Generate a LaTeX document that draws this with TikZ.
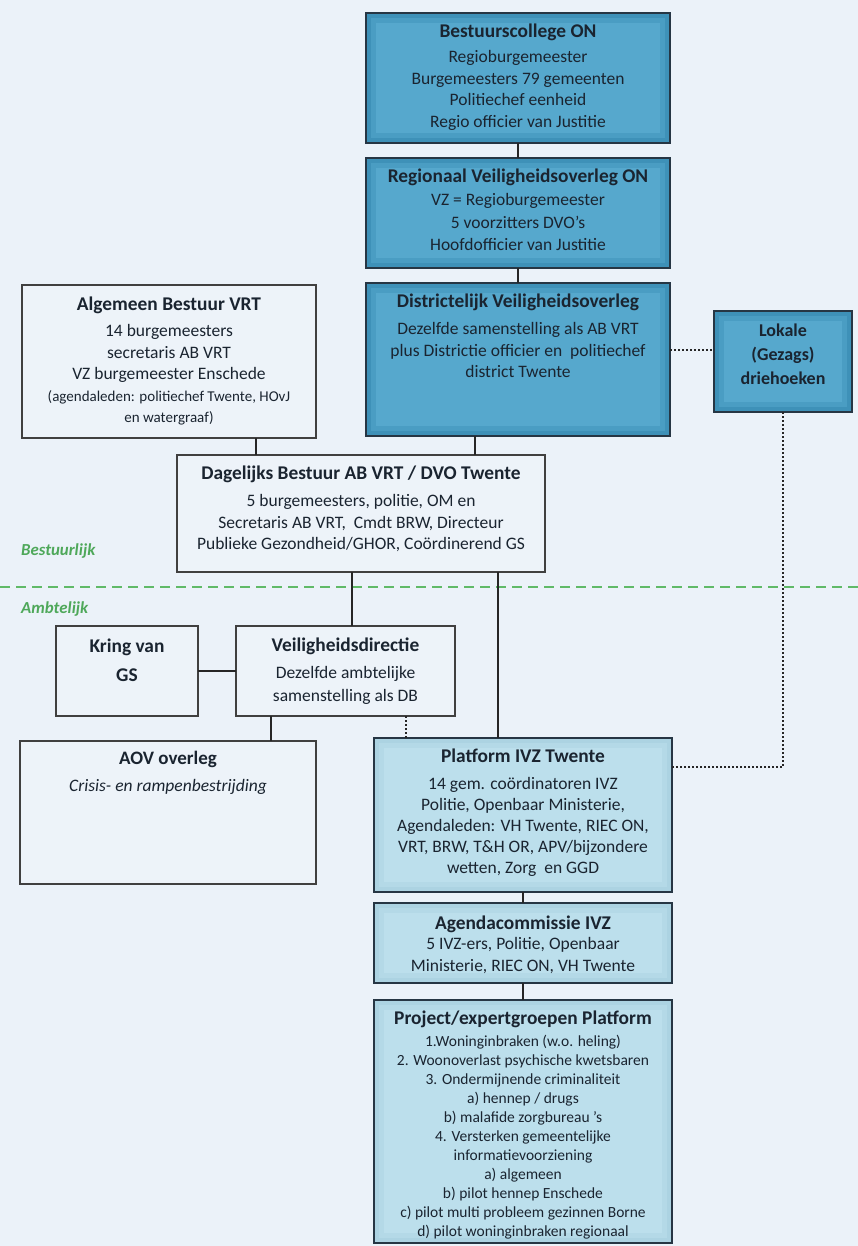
\documentclass[tikz,border=0pt]{standalone}
\usepackage{fontspec}
\setmainfont{Carlito}
\definecolor{bg}{RGB}{235,242,249}
\definecolor{dkfill}{RGB}{62,145,184}
\definecolor{dkmid}{RGB}{74,157,195}
\definecolor{dkin}{RGB}{86,168,205}
\definecolor{ltfill}{RGB}{172,211,226}
\definecolor{ltmid}{RGB}{180,217,231}
\definecolor{ltin}{RGB}{188,223,236}
\definecolor{wtfill}{RGB}{237,243,249}
\definecolor{bord}{RGB}{38,54,68}
\definecolor{txt}{RGB}{26,36,48}
\definecolor{grn}{RGB}{96,186,104}
\definecolor{grntxt}{RGB}{78,168,90}
\newcommand\ttl[1]{{\fontsize{19.4}{22}\selectfont\bfseries #1}}
\tikzset{
  box/.style={draw=bord, line width=2pt, inner sep=0pt, outer sep=0pt, anchor=north west},
  dark/.style={box, fill=dkfill},
  light/.style={box, fill=ltfill},
  plain/.style={box, fill=wtfill, draw=black!75},
  lbl/.style={anchor=north, align=center, inner sep=0pt, text=txt, font=\fontsize{17.5}{21.5}\selectfont},
  small/.style={lbl, font=\fontsize{15.5}{19}\selectfont},
  conn/.style={line width=2.5pt, draw=black!85},
  dots/.style={line width=2pt, dotted, draw=black!85},
  zone/.style={anchor=west, inner sep=0pt, text=grntxt, font=\fontsize{16.8}{18}\selectfont\bfseries\itshape},
}
\begin{document}
\begin{tikzpicture}[x=1pt, y=-1pt]
\fill[bg] (0,0) rectangle (858,1246);
\useasboundingbox (0,0) rectangle (858,1246);

% ---- boxes ----
\node[dark, minimum width=304pt, minimum height=130pt] (bc) at (366,13) {};
\node[dark, minimum width=304pt, minimum height=110pt] (rvo) at (366,158) {};
\node[dark, minimum width=304pt, minimum height=153pt] (dvo) at (366,283) {};
\node[dark, minimum width=138pt, minimum height=101pt] (lok) at (714,311) {};
\node[plain, minimum width=294pt, minimum height=153pt] (ab) at (22,285) {};
\node[plain, minimum width=368pt, minimum height=117pt] (db) at (177,455) {};
\node[plain, minimum width=142pt, minimum height=90pt] (kring) at (56,626) {};
\node[plain, minimum width=219pt, minimum height=90pt] (veil) at (236,626) {};
\node[plain, minimum width=296pt, minimum height=143pt] (aov) at (20,741) {};
\node[light, minimum width=298pt, minimum height=154pt] (plat) at (374,738) {};
\node[light, minimum width=298pt, minimum height=80pt] (agen) at (374,903) {};
\node[light, minimum width=298pt, minimum height=243pt] (proj) at (374,1000) {};

% soft inner lighter areas
\foreach \b in {bc,rvo,dvo,lok} {
  \fill[dkmid] ([shift={(5pt,-5pt)}]\b.north west) rectangle ([shift={(-5pt,5pt)}]\b.south east);
  \fill[dkin] ([shift={(10pt,-10pt)}]\b.north west) rectangle ([shift={(-10pt,10pt)}]\b.south east);
}
\foreach \b in {plat,agen,proj} {
  \fill[ltmid] ([shift={(5pt,-5pt)}]\b.north west) rectangle ([shift={(-5pt,5pt)}]\b.south east);
  \fill[ltin] ([shift={(10pt,-10pt)}]\b.north west) rectangle ([shift={(-10pt,10pt)}]\b.south east);
}

% ---- texts ----
\node[lbl] (bc-t) at (518,24) {\ttl{Bestuurscollege ON}\\[3.5pt]Regioburgemeester\\Burgemeesters 79 gemeenten\\Politiechef eenheid\\Regio officier van Justitie};
\node[lbl, font=\fontsize{17.5}{22.5}\selectfont] (rvo-t) at (518,169) {\ttl{Regionaal Veiligheidsoverleg ON}\\[0.5pt]VZ = Regioburgemeester\\5 voorzitters DVO's\\Hoofdofficier van Justitie};
\node[lbl] (dvo-t) at (518,294) {\ttl{Districtelijk Veiligheidsoverleg}\\[5.5pt]Dezelfde samenstelling als AB VRT\\plus Districtie officier en\ \ politiechef\\district Twente};
\node[lbl, font=\fontsize{18}{24}\selectfont\bfseries] (lok-t) at (783,324) {Lokale\\(Gezags)\\driehoeken};
\node[lbl] (ab-t) at (169,297) {\ttl{Algemeen Bestuur VRT}\\[4.5pt]14 burgemeesters\\secretaris AB VRT\\VZ burgemeester Enschede\\[0pt]{\fontsize{15}{20}\selectfont(agendaleden: politiechef Twente, HOvJ}\\{\fontsize{15}{20}\selectfont en watergraaf)}};
\node[lbl] (db-t) at (361,466) {\ttl{Dagelijks Bestuur AB VRT / DVO Twente}\\[5.5pt]5 burgemeesters, politie, OM en\\Secretaris AB VRT,\ \ Cmdt BRW, Directeur\\Publieke Gezondheid/GHOR, Co\"ordinerend GS};
\node[lbl, font=\fontsize{19.4}{29}\selectfont\bfseries] (kring-t) at (127,639) {Kring van\\GS};
\node[lbl, font=\fontsize{17.5}{23}\selectfont] (veil-t) at (345.5,638) {\ttl{Veiligheidsdirectie}\\[4pt]Dezelfde ambtelijke\\samenstelling als DB};
\node[lbl] (aov-t) at (168,751) {{\fontsize{19}{22}\selectfont\bfseries AOV overleg}\\[5pt]\textit{Crisis- en rampenbestrijding}};
\node[lbl, font=\fontsize{17.5}{21}\selectfont] (plat-t) at (523,749) {\ttl{Platform IVZ Twente}\\[6pt]14 gem. co\"ordinatoren IVZ\\Politie, Openbaar Ministerie,\\Agendaleden: VH Twente, RIEC ON,\\VRT, BRW, T\&H OR, APV/bijzondere\\wetten, Zorg\ \ en GGD};
\node[lbl, font=\fontsize{17.5}{22}\selectfont] (agen-t) at (523,916) {\ttl{Agendacommissie IVZ}\\[-2pt]5 IVZ-ers, Politie, Openbaar\\Ministerie, RIEC ON, VH Twente};
\node[small] (proj-t) at (523,1011) {\ttl{Project/expertgroepen Platform}\\[2.5pt]1.Woninginbraken (w.o. heling)\\2. Woonoverlast psychische kwetsbaren\\3. Ondermijnende criminaliteit\\a) hennep / drugs\\b) malafide zorgbureau 's\\4. Versterken gemeentelijke\\informatievoorziening\\a) algemeen\\b) pilot hennep Enschede\\c) pilot multi probleem gezinnen Borne\\d) pilot woninginbraken regionaal};

% ---- zone divider ----
\coordinate (zl) at (0,587);
\coordinate (zr) at (858,587);
\draw[grn, line width=2.5pt, dash pattern=on 10pt off 6pt] (zl) -- (zr);
\node[zone] (bestuurlijk) at (21,551) {Bestuurlijk};
\node[zone] (ambtelijk) at (21,609) {Ambtelijk};

% ---- connectors ----
\draw[conn] (bc.south) -- (rvo.north);
\draw[conn] (rvo.south) -- (dvo.north);
\draw[conn] (dvo.south -| 475,0) -- (db.north -| 475,0);
\draw[conn] (ab.south -| 256,0) -- (db.north -| 256,0);
\draw[conn] (db.south -| 352,0) -- (veil.north -| 352,0);
\draw[conn] (db.south -| 498,0) -- (plat.north -| 498,0);
\draw[conn] (kring.east) -- (veil.west);
\draw[conn] (veil.south -| 271,0) -- (aov.north -| 271,0);
\draw[conn] (plat.south) -- (agen.north);
\draw[conn] (agen.south) -- (proj.north);
\draw[dots] (dvo.east |- 0,350) -- (lok.west |- 0,350);
\draw[dots] (lok.south) |- (plat.east |- 0,767);
\draw[dots] (veil.south -| 406,0) -- (plat.north -| 406,0);
\end{tikzpicture}
\end{document}
